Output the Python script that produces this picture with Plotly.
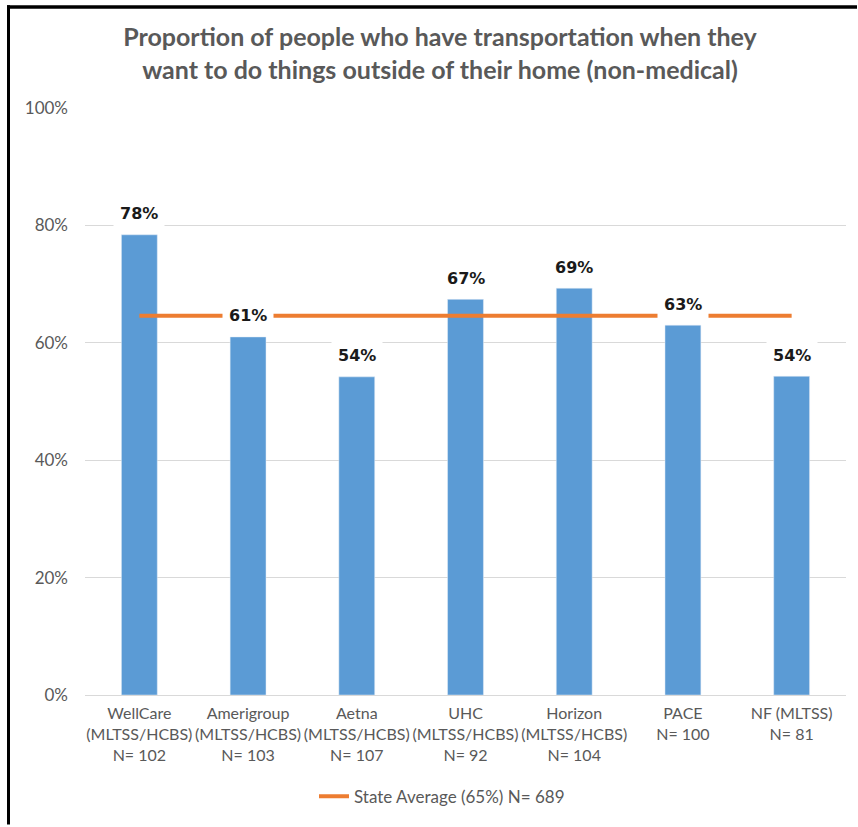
import plotly.graph_objects as go

categories = [
    "WellCare<br>(MLTSS/HCBS)<br>N= 102",
    "Amerigroup<br>(MLTSS/HCBS)<br>N= 103",
    "Aetna<br>(MLTSS/HCBS)<br>N= 107",
    "UHC<br>(MLTSS/HCBS)<br>N= 92",
    "Horizon<br>(MLTSS/HCBS)<br>N= 104",
    "PACE<br>N= 100",
    "NF (MLTSS)<br>N= 81",
]
values = [0.784, 0.610, 0.542, 0.674, 0.693, 0.630, 0.543]
state_average = 0.646
state_label = "State Average (65%) N= 689"
title_text = ("Proportion of people who have transportation when they<br>"
              "want to do things outside of their home (non-medical)")

W, H = 858, 827
L, R, T, B = 85, 12, 108, 130
pw, ph = W - L - R, H - T - B

def px_x(x):
    return (x - L) / pw

def px_y(y):
    return (H - B - y) / ph

fig = go.Figure()
fig.add_trace(go.Bar(
    x=categories, y=values, marker_color="#5B9BD5",
    showlegend=False, hoverinfo="skip",
))
fig.add_trace(go.Scatter(
    x=categories, y=[state_average] * len(categories), mode="lines",
    line=dict(color="#ED7D31", width=4), name=state_label,
))

for c, v in zip(categories, values):
    fig.add_annotation(
        x=c, y=v, yshift=21, yanchor="middle", showarrow=False,
        text="<b>%d%%</b>" % round(v * 100),
        font=dict(family="DejaVu Sans", size=16, color="#1a1a1a"),
        bgcolor="white", borderpad=6,
    )

frame = [
    dict(type="rect", xref="paper", yref="paper",
         x0=px_x(7), x1=px_x(10), y0=px_y(5), y1=px_y(H),
         fillcolor="black", line=dict(width=0), layer="above"),
    dict(type="rect", xref="paper", yref="paper",
         x0=px_x(7), x1=px_x(430), y0=px_y(5), y1=px_y(8.5),
         fillcolor="black", line=dict(width=0), layer="above"),
    dict(type="rect", xref="paper", yref="paper",
         x0=px_x(430), x1=px_x(W - 1), y0=px_y(5), y1=px_y(8.5),
         fillcolor="black", line=dict(width=0), layer="above"),
]

fig.update_layout(
    width=W, height=H,
    margin=dict(l=L, r=R, t=T, b=B),
    paper_bgcolor="white", plot_bgcolor="white",
    bargap=0.67,
    title=dict(
        text="<b>" + title_text + "</b>",
        x=440 / W, xanchor="center", y=1 - 46 / H, yanchor="middle",
        font=dict(family="Lato", size=25, color="#595959"),
    ),
    font=dict(family="Lato", size=16, color="#595959"),
    legend=dict(
        orientation="h", x=px_x(442), xanchor="center", y=px_y(799), yanchor="middle",
        font=dict(family="Lato", size=17, color="#595959"),
    ),
    xaxis=dict(
        showgrid=False, showline=True, linecolor="#D9D9D9", linewidth=1,
        tickfont=dict(family="Lato", size=16, color="#595959"),
        ticks="", fixedrange=True, ticklabelstandoff=4,
    ),
    yaxis=dict(
        range=[0, 1], dtick=0.2, tickformat=".0%",
        showgrid=True, gridcolor="#D9D9D9", gridwidth=1, zeroline=False,
        tickfont=dict(family="Lato", size=17, color="#595959"),
        ticklabelstandoff=16,
    ),
    shapes=frame,
)

fig.write_html("out.html", config={"displayModeBar": False},
               post_script="document.body.style.margin='0px';")
